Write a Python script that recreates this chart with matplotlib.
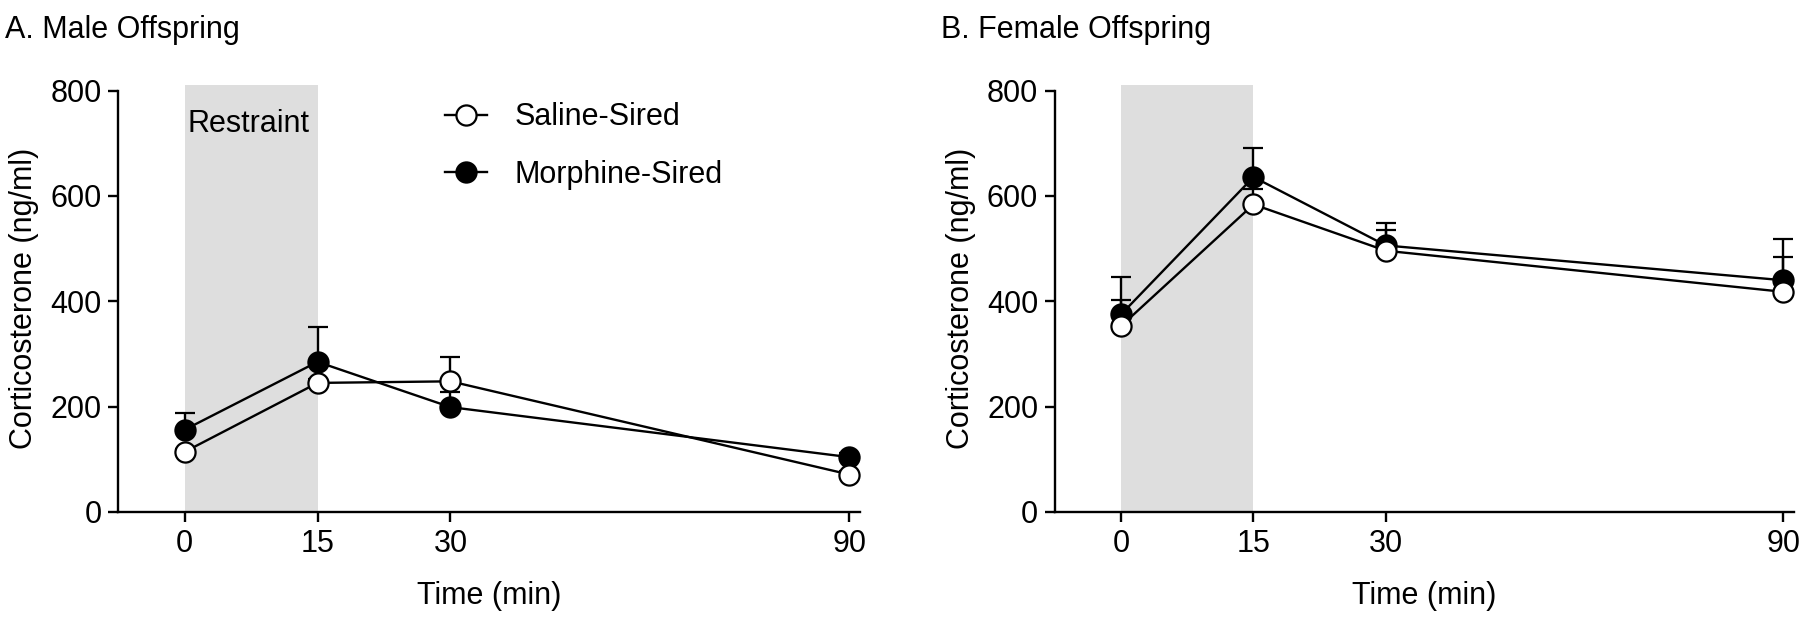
import numpy as np
import matplotlib
matplotlib.use("Agg")
import matplotlib.pyplot as plt
from matplotlib.lines import Line2D

plt.rcParams['font.family'] = ['Liberation Sans', 'DejaVu Sans']

# Tiempo de muestreo (min)
time_min = [0, 15, 30, 90]
tick_labels = ["0", "15", "30", "90"]

# A. Machos (media y SEM, ng/ml)
male_saline = [114, 245, 248, 71]
male_saline_sem = [6, 8, 46, 6]
male_morphine = [156, 285, 199, 104]
male_morphine_sem = [31, 67, 28, 8]

# B. Hembras
female_saline = [353, 584, 496, 418]
female_saline_sem = [49, 30, 40, 66]
female_morphine = [375, 636, 506, 440]
female_morphine_sem = [71, 55, 43, 78]

restraint = (0, 15)
FS = 22


def fwd(t):
    t = np.asarray(t, dtype=float)
    return np.where(t <= 30, t / 15.0, 2 + (t - 30) / 20.0)


def inv(p):
    p = np.asarray(p, dtype=float)
    return np.where(p <= 2, p * 15.0, 30 + (p - 2) * 20.0)


def panel(ax, saline, saline_sem, morph, morph_sem, show_legend):
    ax.set_xscale('function', functions=(fwd, inv))
    ax.axvspan(restraint[0], restraint[1], color='#dedede', lw=0, zorder=0)

    kw = dict(color='black', lw=1.7, marker='o', ms=14.5, mew=1.6,
              capsize=7, elinewidth=1.7, capthick=1.7)
    ax.errorbar(time_min, morph, yerr=[np.zeros(4), morph_sem],
                mfc='black', mec='black', zorder=3, **kw)
    ax.errorbar(time_min, saline, yerr=[np.zeros(4), saline_sem],
                mfc='white', mec='black', zorder=4, **kw)

    ax.set_xlim(-7.5, 91.6)
    ax.set_ylim(0, 810)
    ax.set_xticks(time_min)
    ax.set_xticklabels(tick_labels)
    ax.set_yticks([0, 200, 400, 600, 800])
    for s in ['top', 'right']:
        ax.spines[s].set_visible(False)
    for s in ['left', 'bottom']:
        ax.spines[s].set_linewidth(1.7)
    ax.spines['left'].set_bounds(0, 800)
    ax.tick_params(width=1.7, length=7, labelsize=FS, pad=5)
    ax.set_xlabel('Time (min)', fontsize=FS, labelpad=16)
    ax.set_ylabel('Corticosterone (ng/ml)', fontsize=FS, labelpad=8)

    if show_legend:
        ax.text(0.3, 722, 'Restraint', fontsize=FS, va='baseline')
        handles = [
            Line2D([], [], color='black', lw=1.7, marker='o', ms=14.5, mew=1.6, mfc='white'),
            Line2D([], [], color='black', lw=1.7, marker='o', ms=14.5, mew=1.6, mfc='black'),
        ]
        ax.legend(handles, ['Saline-Sired', 'Morphine-Sired'], loc='upper left',
                  bbox_to_anchor=(0.44, 0.96), frameon=False, fontsize=FS,
                  handlelength=1.4, handletextpad=0.9, labelspacing=0.9,
                  borderpad=0, borderaxespad=0)
    return ax


fig = plt.figure(figsize=(18, 6.19), dpi=100)
axA = fig.add_axes([0.0656, 0.173, 0.4122, 0.689])
axB = fig.add_axes([0.586, 0.173, 0.4106, 0.689])

panel(axA, male_saline, male_saline_sem, male_morphine, male_morphine_sem, True)
panel(axB, female_saline, female_saline_sem, female_morphine, female_morphine_sem, False)

fig.text(0.003, 0.952, 'A. Male Offspring', fontsize=FS, va='center', ha='left')
fig.text(0.523, 0.952, 'B. Female Offspring', fontsize=FS, va='center', ha='left')

fig.savefig('out.png', dpi=100)
